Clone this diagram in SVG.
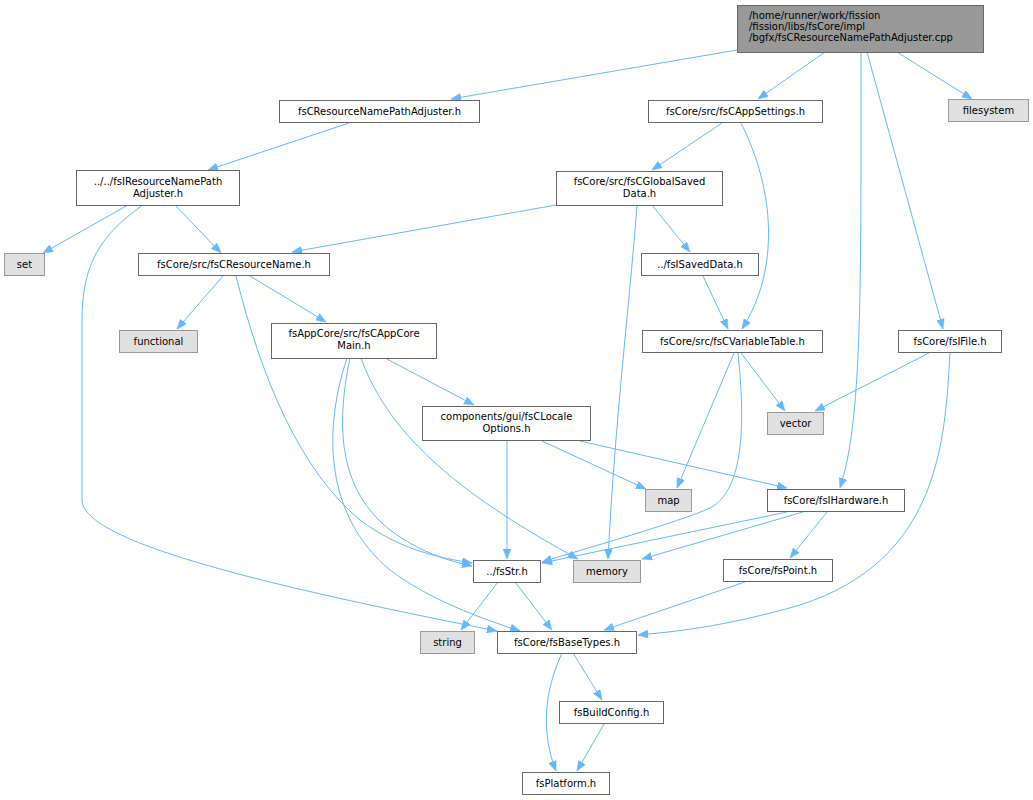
<svg xmlns="http://www.w3.org/2000/svg" width="1033" height="800" viewBox="0 0 1033 800">
<style>
.n rect{fill:#fff;stroke:#666;stroke-width:1}
.x rect{fill:#e0e0e0;stroke:#999;stroke-width:1}
.r rect{fill:#999;stroke:#666;stroke-width:1}
text{font-family:"DejaVu Sans","Liberation Sans",sans-serif;font-size:10px;fill:#000;text-anchor:middle}
.r text{text-anchor:start}
#edges path{fill:none;stroke:#63b8ff;stroke-width:1;marker-end:url(#a)}
</style>
<defs>
<marker id="a" viewBox="0 0 10 8" refX="10" refY="4" markerWidth="10" markerHeight="8" orient="auto" markerUnits="userSpaceOnUse"><path d="M0,0 L10,4 L0,8 z" fill="#63b8ff" stroke="#63b8ff" stroke-width="0.5"/></marker>
</defs>
<rect width="1033" height="800" fill="#fff"/>
<g id="edges">
<path d="M737,50 L451,99"/>
<path d="M825,52 L758,99"/>
<path d="M861,52 C861,300 862,420 840,488"/>
<path d="M867,52 L943,329"/>
<path d="M897,52 L972,99"/>
<path d="M349,123 L208,170"/>
<path d="M128,205 L43,253"/>
<path d="M175,205 L221,253"/>
<path d="M143,205 C100,235 82,265 82,320 L82,500 C82,545 300,592 497,631"/>
<path d="M223,276 L177,329"/>
<path d="M250,276 L326,322"/>
<path d="M236,276 C262,380 300,470 360,520 C400,550 440,558 472,563"/>
<path d="M385,358 L474,405"/>
<path d="M361,358 C390,440 470,500 578,559"/>
<path d="M350,358 C335,430 340,490 390,530 C420,552 445,560 472,566"/>
<path d="M347,358 C320,440 330,520 390,570 C430,600 480,618 520,631"/>
<path d="M722,123 L652,170"/>
<path d="M741,123 C775,190 780,270 742,329"/>
<path d="M556,205 L292,252"/>
<path d="M652,205 L690,252"/>
<path d="M637,205 C630,300 615,420 608,559"/>
<path d="M703,276 L728,329"/>
<path d="M741,353 L785,411"/>
<path d="M734,353 L677,488"/>
<path d="M738,353 C745,420 745,490 710,508 C680,522 580,550 542,562"/>
<path d="M929,353 L815,411"/>
<path d="M950,353 C945,440 940,560 800,605 C720,628 670,632 638,635"/>
<path d="M507,441 L507,559"/>
<path d="M542,441 L646,489"/>
<path d="M580,441 L787,488"/>
<path d="M787,512 L542,563"/>
<path d="M803,512 L642,559"/>
<path d="M827,512 L790,558"/>
<path d="M745,582 L604,630"/>
<path d="M498,582 L461,630"/>
<path d="M515,582 L552,630"/>
<path d="M573,653 L602,700"/>
<path d="M562,653 C545,690 540,730 556,771"/>
<path d="M604,724 L577,771"/>
</g>
<g id="root" class="r"><rect x="737.5" y="5.5" width="246" height="47"/><text x="749" y="19">/home/runner/work/fission</text><text x="749" y="30">/fission/libs/fsCore/impl</text><text x="749" y="41">/bgfx/fsCResourceNamePathAdjuster.cpp</text></g>
<g id="n2" class="n"><rect x="279.5" y="100.5" width="200" height="22"/><text x="379.5" y="115">fsCResourceNamePathAdjuster.h</text></g>
<g id="n3" class="n"><rect x="76.5" y="170.5" width="163" height="35"/><text x="158" y="185">../../fsIResourceNamePath</text><text x="158" y="197">Adjuster.h</text></g>
<g id="n4" class="x"><rect x="4.5" y="253.5" width="40" height="22"/><text x="24.5" y="268">set</text></g>
<g id="n5" class="n"><rect x="138.5" y="253.5" width="191" height="22"/><text x="234" y="268">fsCore/src/fsCResourceName.h</text></g>
<g id="n6" class="x"><rect x="119.5" y="330.5" width="78" height="22"/><text x="158.5" y="345">functional</text></g>
<g id="n7" class="n"><rect x="271.5" y="323.5" width="165" height="35"/><text x="354" y="337">fsAppCore/src/fsCAppCore</text><text x="354" y="349">Main.h</text></g>
<g id="n8" class="n"><rect x="648.5" y="100.5" width="174" height="22"/><text x="735.5" y="115">fsCore/src/fsCAppSettings.h</text></g>
<g id="n9" class="n"><rect x="556.5" y="171.5" width="166" height="34"/><text x="639.5" y="185">fsCore/src/fsCGlobalSaved</text><text x="639.5" y="197">Data.h</text></g>
<g id="n10" class="n"><rect x="641.5" y="253.5" width="117" height="22"/><text x="700" y="268">../fsISavedData.h</text></g>
<g id="n11" class="n"><rect x="642.5" y="330.5" width="180" height="22"/><text x="732.5" y="345">fsCore/src/fsCVariableTable.h</text></g>
<g id="n12" class="n"><rect x="898.5" y="330.5" width="103" height="22"/><text x="950" y="345">fsCore/fsIFile.h</text></g>
<g id="n13" class="x"><rect x="767.5" y="412.5" width="56" height="22"/><text x="795.5" y="427">vector</text></g>
<g id="n14" class="n"><rect x="422.5" y="406.5" width="168" height="34"/><text x="506.5" y="420">components/gui/fsCLocale</text><text x="506.5" y="432">Options.h</text></g>
<g id="n15" class="x"><rect x="645.5" y="489.5" width="46" height="22"/><text x="668.5" y="504">map</text></g>
<g id="n16" class="n"><rect x="473.5" y="560.5" width="67" height="22"/><text x="507" y="575">../fsStr.h</text></g>
<g id="n17" class="x"><rect x="573.5" y="560.5" width="67" height="22"/><text x="607" y="575">memory</text></g>
<g id="n18" class="n"><rect x="767.5" y="489.5" width="137" height="22"/><text x="836" y="504">fsCore/fsIHardware.h</text></g>
<g id="n19" class="n"><rect x="723.5" y="559.5" width="109" height="22"/><text x="778" y="574">fsCore/fsPoint.h</text></g>
<g id="n20" class="x"><rect x="420.5" y="631.5" width="54" height="22"/><text x="447.5" y="646">string</text></g>
<g id="n21" class="n"><rect x="497.5" y="631.5" width="139" height="22"/><text x="567" y="646">fsCore/fsBaseTypes.h</text></g>
<g id="n22" class="n"><rect x="559.5" y="701.5" width="104" height="22"/><text x="611.5" y="716">fsBuildConfig.h</text></g>
<g id="n23" class="n"><rect x="522.5" y="772.5" width="87" height="22"/><text x="566" y="787">fsPlatform.h</text></g>
<g id="n24" class="x"><rect x="948.5" y="99.5" width="80" height="22"/><text x="988.5" y="114">filesystem</text></g>
</svg>
